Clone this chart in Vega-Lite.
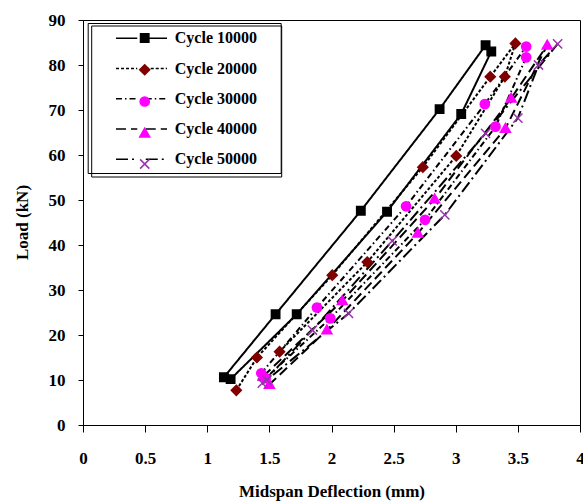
{
  "$schema": "https://vega.github.io/schema/vega-lite/v6.json",
  "width": 497,
  "height": 405,
  "autosize": {"type": "none"},
  "padding": {"left": 83, "top": 20, "right": 3, "bottom": 76},
  "background": "white",
  "config": {
    "view": {"stroke": "black", "strokeWidth": 1},
    "font": "Liberation Serif",
    "axis": {
      "grid": false,
      "domainColor": "black",
      "domainWidth": 1,
      "tickColor": "black",
      "labelFont": "Liberation Serif",
      "labelFontWeight": "bold",
      "labelFontSize": 17,
      "labelColor": "black",
      "titleFont": "Liberation Serif",
      "titleFontWeight": "bold",
      "titleFontSize": 17,
      "titleColor": "black",
      "labelFlush": false,
      "labelOverlap": false
    }
  },
  "data": {
    "values": [
      {"cycle": "Cycle 10000", "i": 1, "d": 1.134, "load": 10.6},
      {"cycle": "Cycle 10000", "i": 2, "d": 1.55, "load": 24.6},
      {"cycle": "Cycle 10000", "i": 3, "d": 2.236, "load": 47.6},
      {"cycle": "Cycle 10000", "i": 4, "d": 2.87, "load": 70.2},
      {"cycle": "Cycle 10000", "i": 5, "d": 3.24, "load": 84.4},
      {"cycle": "Cycle 10000", "i": 6, "d": 3.286, "load": 83.0},
      {"cycle": "Cycle 10000", "i": 7, "d": 3.044, "load": 69.1},
      {"cycle": "Cycle 10000", "i": 8, "d": 2.447, "load": 47.4},
      {"cycle": "Cycle 10000", "i": 9, "d": 1.72, "load": 24.6},
      {"cycle": "Cycle 10000", "i": 10, "d": 1.188, "load": 10.2},
      {"cycle": "Cycle 20000", "i": 1, "d": 1.234, "load": 7.7},
      {"cycle": "Cycle 20000", "i": 2, "d": 1.40, "load": 15.0},
      {"cycle": "Cycle 20000", "i": 3, "d": 2.006, "load": 33.3},
      {"cycle": "Cycle 20000", "i": 4, "d": 2.735, "load": 57.3},
      {"cycle": "Cycle 20000", "i": 5, "d": 3.278, "load": 77.4},
      {"cycle": "Cycle 20000", "i": 6, "d": 3.48, "load": 84.8},
      {"cycle": "Cycle 20000", "i": 7, "d": 3.395, "load": 77.4},
      {"cycle": "Cycle 20000", "i": 8, "d": 3.004, "load": 59.8},
      {"cycle": "Cycle 20000", "i": 9, "d": 2.288, "load": 36.2},
      {"cycle": "Cycle 20000", "i": 10, "d": 1.582, "load": 16.3},
      {"cycle": "Cycle 30000", "i": 1, "d": 1.435, "load": 11.5},
      {"cycle": "Cycle 30000", "i": 2, "d": 1.883, "load": 26.1},
      {"cycle": "Cycle 30000", "i": 3, "d": 2.60, "load": 48.6},
      {"cycle": "Cycle 30000", "i": 4, "d": 3.234, "load": 71.3},
      {"cycle": "Cycle 30000", "i": 5, "d": 3.567, "load": 84.1},
      {"cycle": "Cycle 30000", "i": 6, "d": 3.567, "load": 81.7},
      {"cycle": "Cycle 30000", "i": 7, "d": 3.32, "load": 66.3},
      {"cycle": "Cycle 30000", "i": 8, "d": 2.753, "load": 45.6},
      {"cycle": "Cycle 30000", "i": 9, "d": 1.99, "load": 23.7},
      {"cycle": "Cycle 30000", "i": 10, "d": 1.47, "load": 10.4},
      {"cycle": "Cycle 40000", "i": 1, "d": 1.45, "load": 10.8},
      {"cycle": "Cycle 40000", "i": 2, "d": 2.087, "load": 27.6},
      {"cycle": "Cycle 40000", "i": 3, "d": 2.83, "load": 50.2},
      {"cycle": "Cycle 40000", "i": 4, "d": 3.446, "load": 72.6},
      {"cycle": "Cycle 40000", "i": 5, "d": 3.736, "load": 84.4},
      {"cycle": "Cycle 40000", "i": 6, "d": 3.40, "load": 65.9},
      {"cycle": "Cycle 40000", "i": 7, "d": 2.695, "load": 42.6},
      {"cycle": "Cycle 40000", "i": 8, "d": 1.963, "load": 21.1},
      {"cycle": "Cycle 40000", "i": 9, "d": 1.50, "load": 9.0},
      {"cycle": "Cycle 50000", "i": 1, "d": 1.443, "load": 9.3},
      {"cycle": "Cycle 50000", "i": 2, "d": 1.846, "load": 21.1},
      {"cycle": "Cycle 50000", "i": 3, "d": 2.489, "load": 40.9},
      {"cycle": "Cycle 50000", "i": 4, "d": 3.24, "load": 64.8},
      {"cycle": "Cycle 50000", "i": 5, "d": 3.82, "load": 84.7},
      {"cycle": "Cycle 50000", "i": 6, "d": 3.666, "load": 80.0},
      {"cycle": "Cycle 50000", "i": 7, "d": 3.50, "load": 68.2},
      {"cycle": "Cycle 50000", "i": 8, "d": 2.912, "load": 46.7},
      {"cycle": "Cycle 50000", "i": 9, "d": 2.137, "load": 24.8},
      {"cycle": "Cycle 50000", "i": 10, "d": 1.48, "load": 10.0}
    ]
  },
  "encoding": {
    "x": {
      "field": "d",
      "type": "quantitative",
      "scale": {"domain": [0, 4], "nice": false, "zero": false},
      "axis": {
        "title": "Midspan Deflection (mm)",
        "values": [0, 0.5, 1, 1.5, 2, 2.5, 3, 3.5, 4],
        "format": "~g",
        "tickSize": 7,
        "labelPadding": 18,
        "titleY": 66,
        "titleBaseline": "middle"
      }
    },
    "y": {
      "field": "load",
      "type": "quantitative",
      "scale": {"domain": [0, 90], "nice": false},
      "axis": {
        "title": "Load (kN)",
        "values": [0, 10, 20, 30, 40, 50, 60, 70, 80, 90],
        "tickSize": 5,
        "labelPadding": 13,
        "titleX": -61,
        "titleY": 202,
        "titleAngle": -90,
        "titleBaseline": "middle",
        "titleAlign": "center"
      }
    }
  },
  "layer": [
    {
      "mark": {"type": "line", "color": "black", "strokeWidth": 2},
      "encoding": {
        "order": {"field": "i", "type": "quantitative"},
        "strokeDash": {
          "field": "cycle",
          "type": "nominal",
          "scale": {
            "domain": ["Cycle 10000", "Cycle 20000", "Cycle 30000", "Cycle 40000", "Cycle 50000"],
            "range": [[1, 0], [3, 2], [6, 3, 1.5, 3], [10, 5], [12, 4, 2, 4]]
          },
          "legend": {
            "orient": "none",
            "legendX": 4.7,
            "legendY": 3,
            "title": null,
            "symbolType": "M-3,0H-0.5M0.5,0H3M15.26,0",
            "symbolSize": 289,
            "symbolStrokeColor": "black",
            "symbolStrokeWidth": 1.5,
            "symbolOffset": 38.55,
            "labelOffset": 23.8,
            "labelFont": "Liberation Serif",
            "labelFontWeight": "bold",
            "labelFontSize": 16,
            "labelColor": "black",
            "strokeColor": "black",
            "padding": 5.75,
            "rowPadding": 12.25
          }
        }
      }
    },
    {
      "mark": {"type": "point", "filled": true, "size": 70, "opacity": 1, "strokeWidth": 1.5},
      "encoding": {
        "shape": {
          "field": "cycle",
          "type": "nominal",
          "scale": {
            "range": [
              "M-1,-1H1V1H-1ZM30.6,0",
              "M0,-1.2L1.2,0L0,1.2L-1.2,0ZM30.6,0",
              "M1.1,0A1.1,1.1,0,1,1,-1.1,0A1.1,1.1,0,1,1,1.1,0ZM30.6,0",
              "M0,-1.2L1.2,0.9L-1.2,0.9ZM30.6,0",
              "M-1.1,-1.1L1.1,1.1M-1.1,1.1L1.1,-1.1M30.6,0"
            ]
          },
          "legend": {
            "orient": "none",
            "legendX": 8.2,
            "legendY": 5.5,
            "title": null,
            "symbolSize": 70,
            "symbolStrokeWidth": 1.5,
            "symbolOffset": 41,
            "labelOffset": 28,
            "labelFont": "Liberation Serif",
            "labelFontWeight": "bold",
            "labelFontSize": 16,
            "labelOpacity": 0,
            "labelExpr": "'\u00a0'",
            "strokeColor": "black",
            "padding": 4.5,
            "rowPadding": 14.75,
            "encode": {"symbols": {"update": {"stroke": {"scale": "stroke", "field": "value"}, "strokeWidth": {"value": 1.5}}}}
          }
        },
        "color": {
          "field": "cycle",
          "type": "nominal",
          "scale": {"range": ["#000000", "#800000", "#FF00FF", "#FF00FF", "#9933AA"]}
        },
        "stroke": {
          "field": "cycle",
          "type": "nominal",
          "scale": {"range": ["#000000", "#800000", "#FF00FF", "#FF00FF", "#9933AA"]},
          "legend": null
        }
      }
    }
  ]
}
